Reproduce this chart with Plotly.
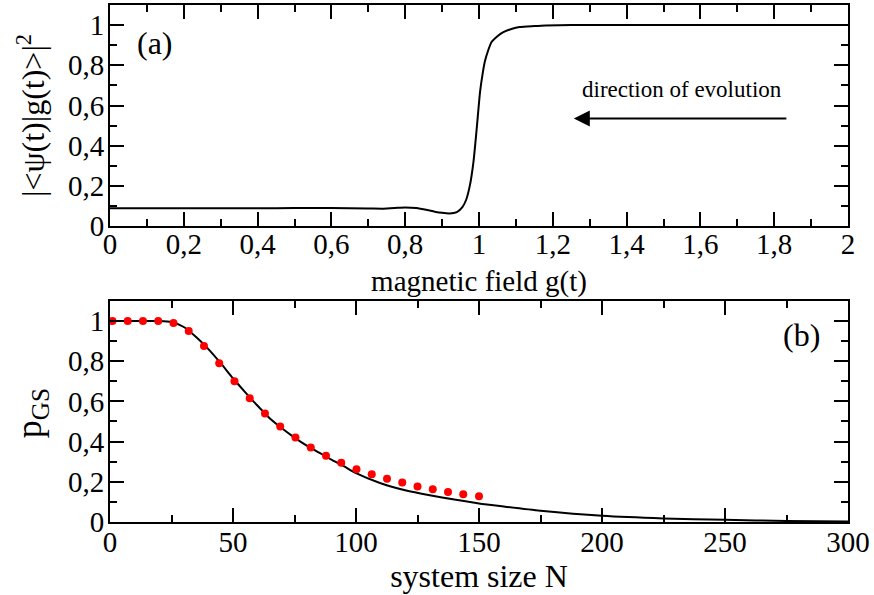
import plotly.graph_objects as go

# Panel (a): overlap vs magnetic field
g_vals = [0.0, 0.1, 0.2, 0.3, 0.4, 0.5, 0.6, 0.7, 0.74, 0.78, 0.8, 0.83, 0.86, 0.88, 0.9, 0.92,
          0.94, 0.955, 0.965, 0.975, 0.985, 0.994, 1.003, 1.01, 1.016, 1.025, 1.034, 1.05,
          1.066, 1.09, 1.11, 1.15, 1.18, 1.25, 1.4, 1.6, 1.8, 2.0]
overlap = [0.089, 0.089, 0.089, 0.089, 0.089, 0.09, 0.09, 0.088, 0.087, 0.091, 0.093, 0.09,
           0.08, 0.072, 0.066, 0.063, 0.07, 0.095, 0.13, 0.2, 0.32, 0.49, 0.67, 0.76, 0.82,
           0.875, 0.916, 0.945, 0.965, 0.982, 0.99, 0.995, 0.998, 1.0, 1.0, 1.0, 1.0, 1.0]

# Panel (b): ground-state probability vs system size
n_line = [0, 10, 20, 25, 30, 35, 40, 45, 50, 55, 60, 65, 70, 75, 80, 85, 90, 95, 100, 110,
          120, 130, 140, 150, 160, 175, 200, 225, 250, 275, 300]
p_line = [1.0, 1.0, 1.0, 0.995, 0.97, 0.92, 0.86, 0.79, 0.715, 0.645, 0.578, 0.515, 0.465,
          0.42, 0.38, 0.345, 0.31, 0.278, 0.243, 0.193, 0.158, 0.133, 0.112, 0.092, 0.077,
          0.056, 0.031, 0.018, 0.011, 0.005, 0.003]
n_dots = [1, 7.2, 13.4, 19.6, 25.8, 32, 38.2, 44.4, 50.6, 56.8, 63, 69.2, 75.4, 81.6, 87.8,
          94, 100.2, 106.4, 112.6, 118.8, 125, 131.2, 137.4, 143.6, 150]
p_dots = [1.0, 1.0, 1.0, 1.0, 0.99, 0.95, 0.875, 0.79, 0.70, 0.615, 0.54, 0.475, 0.42, 0.37,
          0.33, 0.295, 0.263, 0.238, 0.215, 0.196, 0.177, 0.163, 0.149, 0.138, 0.128]

FONT = "Liberation Serif"
TICK_SIZE = 29

fig = go.Figure()
fig.add_trace(go.Scatter(x=g_vals, y=overlap, mode="lines",
                         line=dict(color="black", width=2, shape="spline", smoothing=0.6),
                         xaxis="x", yaxis="y", showlegend=False))
fig.add_trace(go.Scatter(x=n_line, y=p_line, mode="lines",
                         line=dict(color="black", width=2, shape="spline", smoothing=0.6),
                         xaxis="x2", yaxis="y2", showlegend=False))
fig.add_trace(go.Scatter(x=n_dots, y=p_dots, mode="markers",
                         marker=dict(color="#ff0000", size=8),
                         xaxis="x2", yaxis="y2", showlegend=False))

axis_common = dict(showline=True, linecolor="black", linewidth=2, mirror="allticks",
                   ticks="inside", ticklen=14, tickwidth=1.5, tickcolor="black",
                   showgrid=False, zeroline=False,
                   tickfont=dict(family=FONT, size=TICK_SIZE, color="black"))
minor_common = dict(ticks="inside", ticklen=7, tickcolor="black", tickwidth=1.5)

fig.update_layout(
    width=874, height=595,
    margin=dict(l=110, r=26, t=3, b=73),
    paper_bgcolor="white", plot_bgcolor="white",
    separators=",.",
    font=dict(family=FONT, color="black"),
    xaxis=dict(domain=[0, 1], anchor="y", range=[0, 2], dtick=0.2,
               minor=dict(dtick=0.1, **minor_common), ticklabelstandoff=-9,
               title=dict(text="magnetic field g(t)", font=dict(family=FONT, size=29), standoff=12),
               **axis_common),
    yaxis=dict(domain=[0.5723, 1], anchor="x", range=[0, 1.1], dtick=0.2,
               minor=dict(dtick=0.1, **minor_common), ticklabelstandoff=-2,
               **axis_common),
    xaxis2=dict(domain=[0, 1], anchor="y2", range=[0, 300], dtick=50,
                minor=dict(dtick=25, **minor_common), ticklabelstandoff=-7,
                title=dict(text="system size N", font=dict(family=FONT, size=32), standoff=4),
                **axis_common),
    yaxis2=dict(domain=[0, 0.4277], anchor="x2", range=[0, 1.1], dtick=0.2,
                minor=dict(dtick=0.1, **minor_common), ticklabelstandoff=-2,
                **axis_common),
)

fig.add_annotation(text="|&lt;ψ(t)|g(t)&gt;|<sup>2</sup>", textangle=-90,
                   xref="paper", yref="paper", x=-0.108, y=0.786, xanchor="center", yanchor="middle",
                   showarrow=False, font=dict(family=FONT, size=32, color="black"))
fig.add_annotation(text="p<sub>GS</sub>", textangle=-90,
                   xref="paper", yref="paper", x=-0.106, y=0.21, xanchor="center", yanchor="middle",
                   showarrow=False, font=dict(family=FONT, size=36, color="black"))
fig.add_annotation(text="(a)", xref="x", yref="y", x=0.122, y=0.91, showarrow=False,
                   font=dict(family=FONT, size=32, color="black"))
fig.add_annotation(text="(b)", xref="x2", yref="y2", x=281, y=0.93, showarrow=False,
                   font=dict(family=FONT, size=32, color="black"))
fig.add_annotation(text="direction of evolution", xref="x", yref="y", x=1.55, y=0.68,
                   showarrow=False, font=dict(family=FONT, size=23, color="black"))
fig.add_annotation(x=1.257, y=0.535, ax=1.837, ay=0.535, xref="x", yref="y", axref="x", ayref="y",
                   text="", showarrow=True, arrowhead=2, arrowsize=1.6, arrowwidth=2,
                   arrowcolor="black")

fig.write_html("out.html", config={"displayModeBar": False},
               post_script="document.body.style.margin='0';")
